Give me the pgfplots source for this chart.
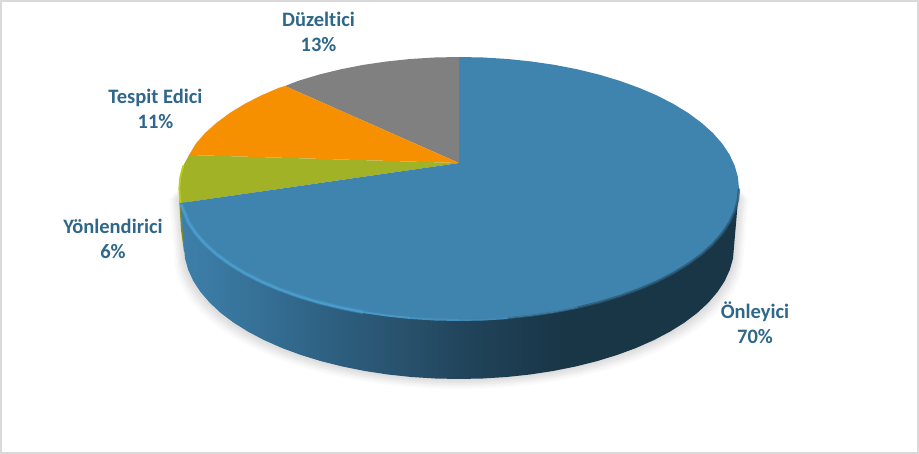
\documentclass[border=0pt]{standalone}
\usepackage{fontspec}
\setmainfont{Carlito}[Ligatures=NoCommon]
\usepackage{pgfplots}
\usepackage{pgfplotstable}
\pgfplotsset{compat=1.18}
\definecolor{pblue}{RGB}{63,132,174}
\definecolor{pgreen}{RGB}{162,178,38}
\definecolor{porange}{RGB}{247,144,0}
\definecolor{pgray}{RGB}{128,128,128}
\definecolor{plabel}{RGB}{47,103,138}
\definecolor{pframe}{RGB}{217,217,217}
\definecolor{prim}{RGB}{74,156,204}
\tikzset{lab/.style={font=\fontsize{20.5}{22}\selectfont\bfseries, text=plabel, inner sep=0pt, anchor=base}}
\pgfdeclarehorizontalshading{wallshade}{100bp}{
 rgb(0bp)=(.24,.50,.67); rgb(25bp)=(.24,.50,.67); rgb(32bp)=(.21,.44,.59);
 rgb(38bp)=(.18,.38,.51); rgb(47bp)=(.15,.30,.40); rgb(50bp)=(.13,.27,.36);
 rgb(59bp)=(.10,.21,.28); rgb(100bp)=(.10,.21,.28)}
\pgfplotstableread{
x y
184 247
185 258.5
188.2 269.9
193.4 281.2
200.6 292.1
209.8 302.8
220.8 313
233.7 322.7
248.3 331.8
264.5 340.3
282.2 348.1
301.3 355.1
321.5 361.3
342.8 366.6
364.9 371
387.8 374.5
411.2 377
435 378.5
459 379
483 378.5
506.8 377
530.2 374.5
553.1 371
575.2 366.6
596.5 361.3
616.7 355.1
635.8 348.1
653.5 340.3
669.7 331.8
684.3 322.7
697.2 313
708.2 302.8
717.4 292.1
724.6 281.2
729.8 269.9
733 258.5
734 247
739 188.5
179 188.5
}\shadowtbl
\begin{document}
\begin{tikzpicture}
\begin{axis}[
  scale only axis, width=919pt, height=454pt,
  xmin=0, xmax=919, ymin=0, ymax=454, y dir=reverse,
  hide axis, clip=true]

% frame
\addplot[draw=pframe, line width=2pt] coordinates {(1,1) (1,453) (918,453) (918,1)} --cycle;

% soft shadow
\addplot[fill=black, fill opacity=0.02, draw=none] table[x expr={459+(\thisrow{x}-459)*1.035}, y expr={\thisrow{y}+10}] {\shadowtbl} --cycle;
\addplot[fill=black, fill opacity=0.025, draw=none] table[x expr={459+(\thisrow{x}-459)*1.028}, y expr={\thisrow{y}+8}] {\shadowtbl} --cycle;
\addplot[fill=black, fill opacity=0.03, draw=none] table[x expr={459+(\thisrow{x}-459)*1.021}, y expr={\thisrow{y}+6}] {\shadowtbl} --cycle;
\addplot[fill=black, fill opacity=0.03, draw=none] table[x expr={459+(\thisrow{x}-459)*1.014}, y expr={\thisrow{y}+4}] {\shadowtbl} --cycle;
\addplot[fill=black, fill opacity=0.03, draw=none] table[x expr={459+(\thisrow{x}-459)*1.007}, y expr={\thisrow{y}+2}] {\shadowtbl} --cycle;

% green side sliver
\addplot[fill=pgreen!80!black, draw=none] coordinates {(179,188) (179.5,205) (181,230) (184,252) (190,252) (186,205)} --cycle;

% blue side wall
\addplot[draw=none, shade, shading=wallshade] coordinates {
(180.5,202.2) (188.5,222.5) (195.9,233.5) (205.2,244.1) (216.5,254.3) (229.6,263.9) (244.5,273) (261,281.5) (279,289.2) (298.4,296.2) (319,302.4) (340.7,307.7) (363.2,312.1) (386.5,315.5) (410.4,318) (434.6,319.5) (459,320) (483.4,319.5) (507.6,318) (531.5,315.5) (554.8,312.1) (577.3,307.7) (599,302.4) (619.6,296.2) (639,289.2) (657,281.5) (673.5,273) (688.4,263.9) (701.5,254.3) (712.8,244.1) (722.1,233.5) (729.5,222.5) (734.7,211.3) (737.9,200) (739,188.5)
(734,247) (733,258.5) (729.8,269.9) (724.6,281.2) (717.4,292.1) (708.2,302.8) (697.2,313) (684.3,322.7) (669.7,331.8) (653.5,340.3) (635.8,348.1) (616.7,355.1) (596.5,361.3) (575.2,366.6) (553.1,371) (530.2,374.5) (506.8,377) (483,378.5) (459,379) (435,378.5) (411.2,377) (387.8,374.5) (364.9,371) (342.8,366.6) (321.5,361.3) (301.3,355.1) (282.2,348.1) (264.5,340.3) (248.3,331.8) (233.7,322.7) (220.8,313) (209.8,302.8) (200.6,292.1) (193.4,281.2) (188.2,269.9) (185,258.5) (184,247)} --cycle;

% Düzeltici 13%
\addplot[fill=pgray, draw=none] coordinates {(459,163) (459,57) (434.6,57.5) (410.4,59) (386.5,61.5) (363.2,64.9) (340.7,69.3) (319,74.6) (298.4,80.8) (285,86)} --cycle;
% Tespit Edici 11%
\addplot[fill=porange, draw=none] coordinates {(459,163) (285,86) (279,87.8) (261,95.5) (244.5,104) (229.6,113.1) (216.5,122.8) (205.2,132.9) (195.9,143.5) (189,155)} --cycle;
% Yönlendirici 6%
\addplot[fill=pgreen, draw=none] coordinates {(459,163) (189,155) (183.3,165.7) (180.1,177) (179,188.5) (180.1,200) (181,203)} --cycle;
% Önleyici 70%
\addplot[fill=pblue, draw=none] coordinates {(459,163) (181,203) (188.5,222.5) (195.9,233.5) (205.2,244.1) (216.5,254.3) (229.6,263.9) (244.5,273) (261,281.5) (279,289.2) (298.4,296.2) (319,302.4) (340.7,307.7) (363.2,312.1) (386.5,315.5) (410.4,318) (434.6,319.5) (459,320) (483.4,319.5) (507.6,318) (531.5,315.5) (554.8,312.1) (577.3,307.7) (599,302.4) (619.6,296.2) (639,289.2) (657,281.5) (673.5,273) (688.4,263.9) (701.5,254.3) (712.8,244.1) (722.1,233.5) (729.5,222.5) (734.7,211.3) (737.9,200) (739,188.5) (737.9,177) (734.7,165.7) (729.5,154.5) (722.1,143.5) (712.8,132.9) (701.5,122.8) (688.4,113.1) (673.5,104) (657,95.5) (639,87.8) (619.6,80.8) (599,74.6) (577.3,69.3) (554.8,64.9) (531.5,61.5) (507.6,59) (483.4,57.5) (459,57)} --cycle;

% rim: dark blur on the right
\addplot[draw=pblue!85!black, line width=2pt, draw opacity=.7] coordinates {(459,320) (483.4,319.5) (507.6,318) (531.5,315.5) (554.8,312.1) (577.3,307.7)};
\addplot[draw=pblue!65!black, line width=2.5pt, draw opacity=.75] coordinates {(577.3,307.7) (599,302.4) (619.6,296.2) (639,289.2) (657,281.5) (673.5,273) (688.4,263.9) (701.5,254.3) (712.8,244.1) (722.1,233.5) (729.5,222.5) (734.7,211.3) (737.9,200) (739,188.5)};
% rim: bright band on the left, fading out
\addplot[draw=prim, line width=4pt, draw opacity=.45] coordinates {(181,204) (188.5,222.5) (195.9,233.5) (205.2,244.1) (216.5,254.3) (229.6,263.9) (244.5,273) (261,281.5) (279,289.2) (298.4,296.2) (319,302.4) (340.7,307.7) (363.2,312.1)};
\addplot[draw=prim, line width=2.2pt] coordinates {(181,204) (188.5,222.5) (195.9,233.5) (205.2,244.1) (216.5,254.3) (229.6,263.9) (244.5,273) (261,281.5) (279,289.2) (298.4,296.2) (319,302.4) (340.7,307.7) (363.2,312.1)};
\addplot[draw=prim!80!pblue, line width=2pt] coordinates {(363.2,312.1) (386.5,315.5) (410.4,318)};
\addplot[draw=prim!50!pblue, line width=2pt] coordinates {(410.4,318) (434.6,319.5) (459,320)};
\addplot[draw=prim!25!pblue, line width=2pt] coordinates {(459,320) (483.4,319.5) (507.6,318)};
\addplot[draw={rgb,255:red,184;green,207;blue,31}, line width=1.8pt] coordinates {(180.5,203) (180.1,200) (179.3,188.5) (180.3,177) (183.3,165.7)};

\node[lab] at (axis cs:318.5,27) {Düzeltici};
\node[lab] at (axis cs:318.5,52) {13\%};
\node[lab] at (axis cs:155.5,104) {Tespit Edici};
\node[lab] at (axis cs:155.5,129) {11\%};
\node[lab] at (axis cs:113,234) {Yönlendirici};
\node[lab] at (axis cs:113,259) {6\%};
\node[lab] at (axis cs:755,319) {Önleyici};
\node[lab] at (axis cs:755,344) {70\%};
\end{axis}
\end{tikzpicture}
\end{document}
